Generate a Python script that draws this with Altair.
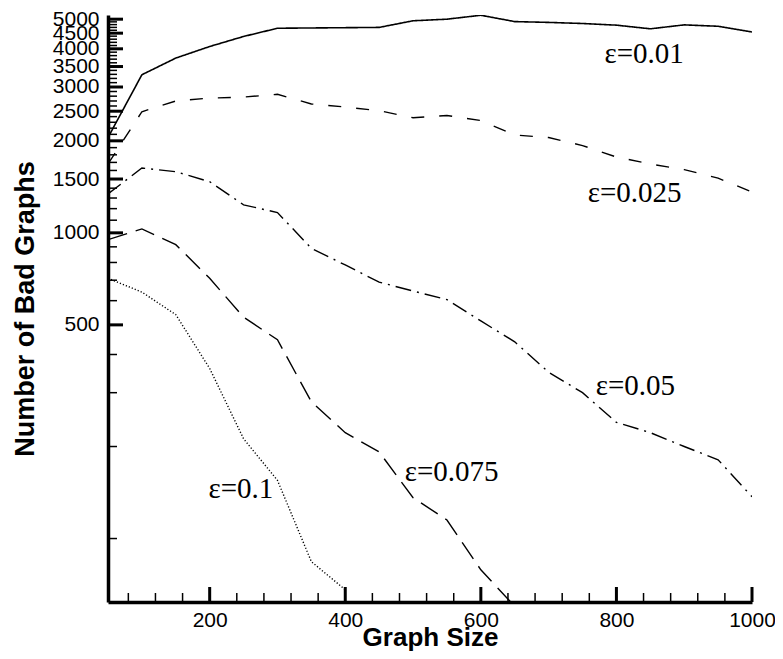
import altair as alt
import pandas as pd

# ---- data ----
sizes = [50, 100, 150, 200, 250, 300, 350, 400, 450, 500,
         550, 600, 650, 700, 750, 800, 850, 900, 950, 1000]

eps_001 = [2050, 3290, 3730, 4070, 4390, 4670, 4680, 4690, 4700, 4940,
           5000, 5150, 4910, 4880, 4840, 4780, 4650, 4790, 4740, 4540]
eps_0025 = [1680, 2490, 2700, 2760, 2780, 2840, 2640, 2580, 2510, 2380,
            2420, 2330, 2090, 2050, 1930, 1770, 1680, 1610, 1510, 1360]
eps_005 = [1340, 1630, 1585, 1470, 1235, 1165, 890, 785, 690, 645,
           605, 515, 440, 350, 300, 240, 222, 200, 181, 137]
eps_0075 = [950, 1030, 915, 710, 530, 447, 280, 222, 192, 136, 115, 79, 60]
eps_01 = [710, 640, 540, 360, 212, 155, 84, 68]

series_names = ["ε=0.01", "ε=0.025", "ε=0.05", "ε=0.075", "ε=0.1"]
series_values = [eps_001, eps_0025, eps_005, eps_0075, eps_01]
series_dash = [[1, 0], [13, 15], [16, 6, 2, 6], [20, 9], [1.2, 2]]
series_width = [1.6, 1.4, 1.4, 1.4, 1.4]

label_text = ["ε=0.01", "ε=0.025", "ε=0.05", "ε=0.075", "ε=0.1"]
label_x = [841, 827, 828, 557, 246]
label_y = [3596, 1266, 295, 154, 136]

x_labels = [200, 400, 600, 800, 1000]
y_labels = [500, 1000, 1500, 2000, 2500, 3000, 3500, 4000, 4500, 5000]
x_minor = [v for v in range(80, 1001, 40) if v % 200 != 0]
y_minor = list(range(100, 5001, 100))

W, H = 644, 587

xscale = alt.Scale(domain=[50, 1000], nice=False, zero=False)
yscale = alt.Scale(type="log", domain=[62, 5160], nice=False)

xaxis = alt.Axis(title="Graph Size", values=x_labels, ticks=False, grid=False,
                 labelFlush=False, labelOverlap=False, format="d",
                 labelPadding=7, titleY=43, titleBaseline="alphabetic",
                 titleFontSize=26)
yaxis = alt.Axis(title="Number of Bad Graphs", values=y_labels, ticks=False,
                 grid=False, labelFlush=False, labelOverlap=False, format="d",
                 labelPadding=9, titleX=-75, titleY=H / 2, titleAngle=-90,
                 titleBaseline="alphabetic", titleAlign="center",
                 titleFontSize=27)

layers = []
for name, vals, dash, sw in zip(series_names, series_values, series_dash, series_width):
    df = pd.DataFrame({"size": sizes[:len(vals)], "bad": vals, "series": name})
    layers.append(
        alt.Chart(df).mark_line(color="black", strokeWidth=sw, strokeDash=dash, clip=True)
        .encode(x=alt.X("size:Q", scale=xscale, axis=xaxis),
                y=alt.Y("bad:Q", scale=yscale, axis=yaxis))
    )

labels_df = pd.DataFrame({"size": label_x, "bad": label_y, "text": label_text})
layers.append(
    alt.Chart(labels_df).mark_text(font="Liberation Serif", fontSize=29, color="black",
                                   align="center", baseline="alphabetic")
    .encode(x=alt.X("size:Q", scale=xscale, axis=xaxis),
            y=alt.Y("bad:Q", scale=yscale, axis=yaxis), text="text:N")
)

# inward tick marks
ymin_df = pd.DataFrame({"bad": y_minor})
ymaj_df = pd.DataFrame({"bad": y_labels})
xmin_df = pd.DataFrame({"size": x_minor})
xmaj_df = pd.DataFrame({"size": x_labels})

layers.append(alt.Chart(ymin_df).mark_rule(color="black", strokeWidth=1.5)
              .encode(y=alt.Y("bad:Q", scale=yscale, axis=yaxis), x=alt.value(0), x2=alt.value(9)))
layers.append(alt.Chart(ymaj_df).mark_rule(color="black", strokeWidth=3)
              .encode(y=alt.Y("bad:Q", scale=yscale, axis=yaxis), x=alt.value(0), x2=alt.value(15)))
layers.append(alt.Chart(xmin_df).mark_rule(color="black", strokeWidth=1.5)
              .encode(x=alt.X("size:Q", scale=xscale, axis=xaxis), y=alt.value(H), y2=alt.value(H - 9)))
layers.append(alt.Chart(xmaj_df).mark_rule(color="black", strokeWidth=3)
              .encode(x=alt.X("size:Q", scale=xscale, axis=xaxis), y=alt.value(H), y2=alt.value(H - 15)))

chart = alt.layer(*layers).properties(
    width=W, height=H,
    padding={"left": 100, "top": 7, "right": 23, "bottom": 50},
    autosize=alt.AutoSizeParams(type="none"),
    background="white",
).configure_axis(
    domainColor="black", domainWidth=3.5,
    labelFont="Liberation Sans", labelFontSize=21, labelColor="black",
    titleFont="Liberation Sans", titleFontWeight="bold", titleColor="black",
).configure_view(stroke=None)

chart.save("out.html", embed_options={"renderer": "svg", "actions": False})
